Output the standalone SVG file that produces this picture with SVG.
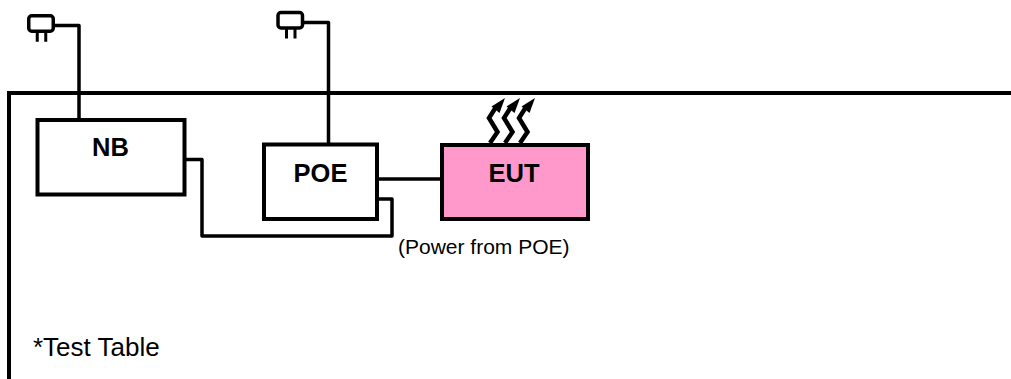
<svg xmlns="http://www.w3.org/2000/svg" width="1011" height="379" viewBox="0 0 1011 379">
<style>
.box{fill:#fff;stroke:#000;stroke-width:4}
.ln{fill:none;stroke:#000;stroke-width:3.5;stroke-linejoin:round}
.lbl{font-family:"Liberation Sans",Arial,sans-serif;font-size:25.500px;font-weight:bold;text-anchor:middle;fill:#000}
.note{font-family:"Liberation Sans",Arial,sans-serif;fill:#000}
</style>
<defs>
<g id="plug">
<rect x="0" y="0" width="24.500" height="15.500" rx="3" fill="#fff" stroke="#000" stroke-width="3.500"/>
<path d="M8.500 16V26M17 16V26" fill="none" stroke="#000" stroke-width="3"/>
</g>
<g id="wave">
<path d="M0 0L7.500 -11L-1 -25L6 -36" fill="none" stroke="#000" stroke-width="4.500"/>
<path d="M15 -45L1.500 -36.500L9.500 -30Z" fill="#000"/>
</g>
</defs>
<g id="table">
<path d="M9 379V93H1011" fill="none" stroke="#000" stroke-width="4"/>
<text class="note" x="33" y="356" font-size="26">*Test Table</text>
</g>
<g id="connectors">
<path class="ln" d="M55 25.500H79V119"/>
<path class="ln" d="M303 22.500H328.500V144"/>
<path class="ln" d="M185 159.500H202V236H392V199H377"/>
<path class="ln" d="M377 179H442"/>
</g>
<g id="plug1"><use href="#plug" x="28.750" y="15.750"/></g>
<g id="plug2"><use href="#plug" x="278" y="12.500"/></g>
<g id="NB"><rect class="box" x="37.500" y="120" width="147" height="74.500"/><text class="lbl" x="110.500" y="155.500">NB</text></g>
<g id="POE"><rect class="box" x="264" y="144.500" width="113" height="74.500"/><text class="lbl" x="320.500" y="181.500">POE</text></g>
<g id="EUT"><rect x="442" y="145" width="146" height="74" fill="#ff99cc" stroke="#000" stroke-width="4"/><text class="lbl" x="514" y="181.500">EUT</text></g>
<g id="heat">
<use href="#wave" x="490" y="143"/>
<use href="#wave" x="505" y="143"/>
<use href="#wave" x="520" y="143"/>
</g>
<text id="power-note" class="note" x="398" y="253.500" font-size="21">(Power from POE)</text>
</svg>
